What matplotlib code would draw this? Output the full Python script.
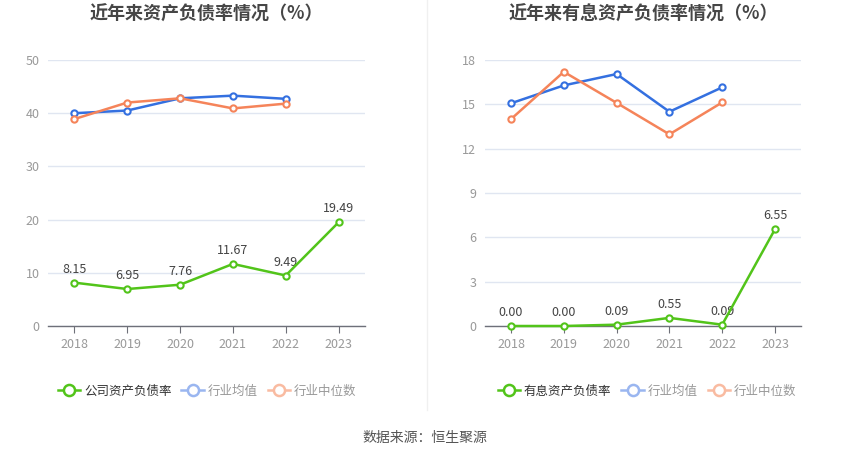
import matplotlib
matplotlib.use("Agg")
import matplotlib.pyplot as plt
from matplotlib.lines import Line2D

plt.rcParams['font.family'] = ['Noto Sans CJK SC', 'DejaVu Sans']

years = ['2018', '2019', '2020', '2021', '2022', '2023']

# Left chart: asset-liability ratio
company_debt = [8.15, 6.95, 7.76, 11.67, 9.49, 19.49]
industry_mean_debt = [40.0, 40.5, 42.8, 43.3, 42.7]
industry_median_debt = [38.9, 42.0, 42.8, 40.9, 41.8]

# Right chart: interest-bearing asset-liability ratio
company_int = [0.00, 0.00, 0.09, 0.55, 0.09, 6.55]
industry_mean_int = [15.07, 16.28, 17.05, 14.5, 16.15]
industry_median_int = [14.0, 17.2, 15.1, 12.97, 15.13]

left_title = '近年来资产负债率情况（%）'
right_title = '近年来有息资产负债率情况（%）'
left_legend = ['公司资产负债率', '行业均值', '行业中位数']
right_legend = ['有息资产负债率', '行业均值', '行业中位数']
source_text = '数据来源：恒生聚源'

GREEN = '#52c41a'
BLUE = '#3470e0'
ORANGE = '#f5845a'
BLUE_L = '#9ab6f0'
ORANGE_L = '#f9bba1'

fig = plt.figure(figsize=(8.5, 4.59), dpi=100)
W, H = 850, 459

def make_ax(x0, x1):
    return fig.add_axes([x0 / W, 1 - 326 / H, (x1 - x0) / W, (326 - 60) / H])

def style(ax, ymax, step):
    ax.set_xlim(-0.5, 5.5)
    ax.set_ylim(0, ymax)
    ax.set_yticks(list(range(0, ymax + 1, step)))
    ax.set_xticks(range(len(years)))
    ax.set_xticklabels(years)
    for s in ['top', 'right', 'left']:
        ax.spines[s].set_visible(False)
    ax.spines['bottom'].set_color('#6e7079')
    ax.spines['bottom'].set_linewidth(1)
    ax.grid(axis='y', color='#e0e6f1', linewidth=1)
    ax.set_axisbelow(True)
    ax.tick_params(axis='y', length=0, labelsize=9, labelcolor='#999999', pad=6)
    ax.tick_params(axis='x', length=5, color='#6e7079', labelsize=9, labelcolor='#999999', pad=4)

def plot_series(ax, comp, mean, med):
    x = list(range(len(years)))
    ax.plot(x[:len(mean)], mean, color=BLUE, lw=1.8, marker='o', ms=4.5,
            mfc='white', mew=1.5, zorder=3, clip_on=False)
    ax.plot(x[:len(med)], med, color=ORANGE, lw=1.8, marker='o', ms=4.5,
            mfc='white', mew=1.5, zorder=3, clip_on=False)
    ax.plot(x, comp, color=GREEN, lw=1.8, marker='o', ms=4.5,
            mfc='white', mew=1.5, zorder=4, clip_on=False)
    for xi, v in zip(x, comp):
        ax.annotate(f'{v:.2f}', (xi, v), xytext=(0, 5), textcoords='offset points',
                    ha='center', va='bottom', fontsize=9, color='#444444')

def legend(labels, cx):
    handles = [
        Line2D([0], [0], color=GREEN, lw=1.8, marker='o', ms=8, mfc='white', mew=1.8),
        Line2D([0], [0], color=BLUE_L, lw=1.8, marker='o', ms=8, mfc='white', mew=1.8),
        Line2D([0], [0], color=ORANGE_L, lw=1.8, marker='o', ms=8, mfc='white', mew=1.8),
    ]
    leg = fig.legend(handles, labels, loc='center', bbox_to_anchor=(cx / W, 1 - 391 / H),
                     ncol=3, frameon=False, fontsize=9, handlelength=1.8,
                     handletextpad=0.3, columnspacing=0.8)
    for i, t in enumerate(leg.get_texts()):
        t.set_color('#333333' if i == 0 else '#999999')

ax1 = make_ax(48, 365)
style(ax1, 50, 10)
plot_series(ax1, company_debt, industry_mean_debt, industry_median_debt)
fig.text(206 / W, 1 - 14 / H, left_title, ha='center', va='center', fontsize=13,
         fontweight='bold', color='#464646')
legend(left_legend, 207)

ax2 = make_ax(484.6, 801.4)
style(ax2, 18, 3)
plot_series(ax2, company_int, industry_mean_int, industry_median_int)
fig.text(643 / W, 1 - 14 / H, right_title, ha='center', va='center', fontsize=13,
         fontweight='bold', color='#464646')
legend(right_legend, 647)

fig.add_artist(Line2D([427 / W, 427 / W], [1 - 410 / H, 1.0], color='#f0f0f0', lw=1))
fig.text(425 / W, 1 - 438 / H, source_text, ha='center', va='center', fontsize=10,
         color='#555555')

fig.savefig('out.png', dpi=100)
